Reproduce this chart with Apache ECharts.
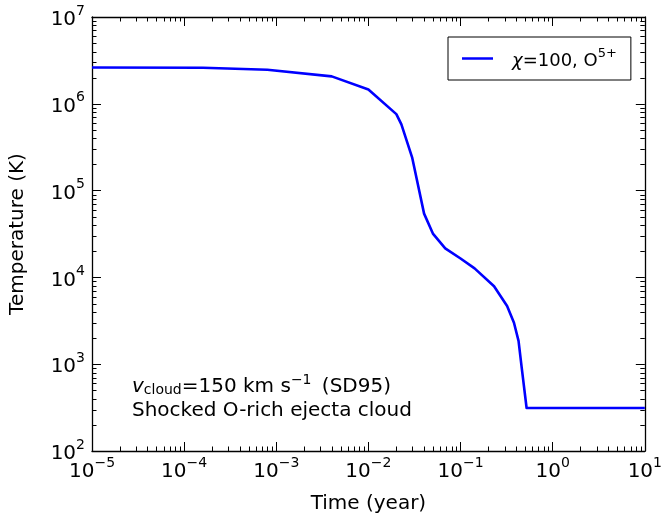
<!DOCTYPE html>
<html>
<head>
<meta charset="utf-8">
<script src="https://cdn.jsdelivr.net/npm/echarts@6/dist/echarts.min.js"></script>
<style>
  html, body { margin: 0; padding: 0; background: #fff; }
  #chart { width: 665px; height: 519px; }
</style>
</head>
<body>
<div id="chart"></div>
<script>
// Cooling history of a shocked O-rich ejecta cloud
const timeYears = [1e-5, 1.6e-4, 8e-4, 4e-3, 0.01, 0.0201, 0.0228, 0.0298, 0.0402, 0.0501,
                   0.0682, 0.1, 0.142, 0.231, 0.32, 0.38, 0.426, 0.461, 0.521, 10];
const temperatureK = [2.62e6, 2.6e6, 2.47e6, 2.07e6, 1.46e6, 7.6e5, 5.8e5, 2.42e5, 5.43e4, 3.2e4,
                      2.16e4, 1.65e4, 1.27e4, 7.9e3, 4.68e3, 3.0e3, 1.86e3, 914, 313, 313];
const seriesName = 'chi100_O5';
const xDecades = [-5, -4, -3, -2, -1, 0];      // decades holding minor ticks on the time axis
const yDecades = [2, 3, 4, 5, 6];              // decades holding minor ticks on the temperature axis
const minorMultipliers = [2, 3, 4, 5, 6, 7, 8, 9];

const FONT = '"DejaVu Sans", sans-serif';

// minor log ticks: [x, y, kind] with kind 0 = time axis, 1 = temperature axis
const minorTicks = [];
xDecades.forEach(d => minorMultipliers.forEach(m => minorTicks.push([m * Math.pow(10, d), 1e3, 0])));
yDecades.forEach(d => minorMultipliers.forEach(m => minorTicks.push([1, m * Math.pow(10, d), 1])));

function powLabel(v) {
  const e = Math.round(Math.log10(v));
  return '{b|10}{s|' + String(e).replace('-', '\u2212') + '}';
}
const powRich = {
  b: { fontFamily: FONT, fontSize: 20, color: '#000', lineHeight: 26, verticalAlign: 'bottom' },
  s: { fontFamily: FONT, fontSize: 14, color: '#000', lineHeight: 15, verticalAlign: 'top' }
};

const axisLine = { show: true, lineStyle: { color: '#000', width: 1.3 } };
const majorTick = { show: true, inside: true, length: 9, lineStyle: { color: '#000', width: 1 } };

function minorTickItem(params, api) {
  const cs = params.coordSys;
  const kind = api.value(2);
  const len = 4.5;
  const style = { stroke: '#000', lineWidth: 1 };
  if (kind === 0) {
    const x = Math.round(api.coord([api.value(0), api.value(1)])[0]) + 0.5;
    const b = cs.y + cs.height;
    return { type: 'group', children: [
      { type: 'line', shape: { x1: x, y1: b, x2: x, y2: b - len }, style },
      { type: 'line', shape: { x1: x, y1: cs.y, x2: x, y2: cs.y + len }, style }
    ] };
  }
  const y = Math.round(api.coord([api.value(0), api.value(1)])[1]) + 0.5;
  const r = cs.x + cs.width;
  return { type: 'group', children: [
    { type: 'line', shape: { x1: cs.x, y1: y, x2: cs.x + len, y2: y }, style },
    { type: 'line', shape: { x1: r, y1: y, x2: r - len, y2: y }, style }
  ] };
}

const chart = echarts.init(document.getElementById('chart'), null, { renderer: 'canvas' });
chart.setOption({
  animation: false,
  backgroundColor: '#fff',
  grid: { left: 85, top: 17, right: 14, bottom: 65, containLabel: false },
  xAxis: [
    {
      type: 'log', logBase: 10, min: 1e-5, max: 10, splitNumber: 6,
      position: 'bottom',
      name: 'Time (year)', nameLocation: 'middle', nameGap: 43,
      nameTextStyle: { fontFamily: FONT, fontSize: 20, color: '#000' },
      axisLine, axisTick: majorTick, splitLine: { show: false },
      axisLabel: { margin: 5, formatter: powLabel, rich: powRich }
    },
    {
      type: 'log', logBase: 10, min: 1e-5, max: 10, splitNumber: 6,
      position: 'top', axisLine, axisTick: majorTick, splitLine: { show: false },
      axisLabel: { show: false }
    }
  ],
  yAxis: [
    {
      type: 'log', logBase: 10, min: 1e2, max: 1e7, splitNumber: 5,
      position: 'left',
      name: 'Temperature (K)', nameLocation: 'middle', nameGap: 64, nameRotate: 90,
      nameTextStyle: { fontFamily: FONT, fontSize: 20, color: '#000' },
      axisLine, axisTick: majorTick, splitLine: { show: false },
      axisLabel: { margin: 7, formatter: powLabel, rich: powRich }
    },
    {
      type: 'log', logBase: 10, min: 1e2, max: 1e7, splitNumber: 5,
      position: 'right', axisLine, axisTick: majorTick, splitLine: { show: false },
      axisLabel: { show: false }
    }
  ],
  legend: {
    left: 448, top: 37,
    data: [seriesName],
    borderColor: '#000', borderWidth: 1, borderRadius: 0,
    padding: [10, 14, 10, 14],
    icon: 'rect', itemWidth: 31, itemHeight: 2.5,
    formatter: () => '{i|\u03c7}{n|=100, O}{s|5+}',
    textStyle: {
      fontFamily: FONT, fontSize: 18, color: '#000',
      rich: {
        i: { fontFamily: FONT, fontSize: 18, fontStyle: 'italic', color: '#000', padding: [0, 0, 0, 14], lineHeight: 23, verticalAlign: 'bottom' },
        n: { fontFamily: FONT, fontSize: 18, color: '#000', lineHeight: 23, verticalAlign: 'bottom' },
        s: { fontFamily: FONT, fontSize: 13, color: '#000', lineHeight: 13, verticalAlign: 'top' }
      }
    }
  },
  graphic: [
    {
      type: 'text', left: 132, top: 373, silent: true,
      style: {
        text: '{v|v}{sub|cloud}{n|=150 km s}{sup|\u22121}{n| (SD95)}\n{n|Shocked O-rich ejecta cloud}',
        fill: '#000',
        rich: {
          v: { fontFamily: FONT, fontSize: 20, fontStyle: 'italic', lineHeight: 24, verticalAlign: 'bottom' },
          sub: { fontFamily: FONT, fontSize: 14, lineHeight: 17, verticalAlign: 'bottom' },
          n: { fontFamily: FONT, fontSize: 20, lineHeight: 24, verticalAlign: 'bottom' },
          sup: { fontFamily: FONT, fontSize: 14, lineHeight: 14, verticalAlign: 'top', padding: [0, 4, 0, 0] }
        }
      }
    }
  ],
  series: [
    {
      name: seriesName,
      type: 'line',
      xAxisIndex: 0, yAxisIndex: 0,
      data: timeYears.map((t, i) => [t, temperatureK[i]]),
      showSymbol: false, symbol: 'none',
      lineStyle: { color: '#0000ff', width: 2.6, join: 'round' },
      itemStyle: { color: '#0000ff' },
      z: 3
    },
    {
      name: 'minor ticks',
      type: 'custom',
      xAxisIndex: 0, yAxisIndex: 0,
      data: minorTicks,
      encode: { x: 0, y: 1 },
      renderItem: minorTickItem,
      silent: true, clip: false, z: 4
    }
  ]
});
</script>
</body>
</html>
